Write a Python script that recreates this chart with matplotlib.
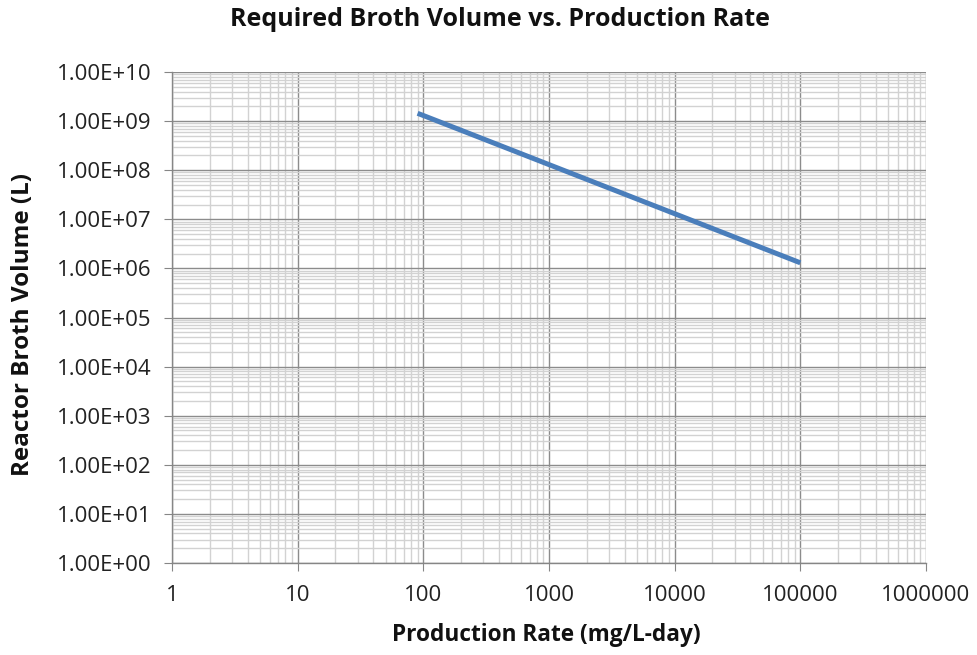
import matplotlib
matplotlib.use("Agg")
import matplotlib.pyplot as plt
from matplotlib.ticker import LogLocator, FixedLocator, NullFormatter

production_rate = [90, 100, 1000, 10000, 100000]
broth_volume = [1.44e9, 1.3e9, 1.3e8, 1.3e7, 1.3e6]
x_ticks = [1, 10, 100, 1000, 10000, 100000, 1000000]
x_tick_labels = ["1", "10", "100", "1000", "10000", "100000", "1000000"]
y_ticks = [10.0**k for k in range(0, 11)]
y_tick_labels = ["1.00E+%02d" % k for k in range(0, 11)]

plt.rcParams['font.family'] = ['Open Sans', 'DejaVu Sans']

W, H = 977, 655
fig = plt.figure(figsize=(W/100, H/100), dpi=100)
ax = fig.add_axes([172/W, 1-563/H, (926-172)/W, (563-72)/H])

ax.plot(production_rate, broth_volume, color='#4a7ebb', lw=3.6, solid_capstyle='butt', zorder=3)

ax.set_xscale('log')
ax.set_yscale('log')
ax.set_xlim(1, 1e6)
ax.set_ylim(1, 1e10)

ax.xaxis.set_major_locator(FixedLocator(x_ticks))
ax.set_xticklabels(x_tick_labels)
ax.yaxis.set_major_locator(FixedLocator(y_ticks))
ax.set_yticklabels(y_tick_labels)
ax.xaxis.set_minor_locator(LogLocator(base=10, subs=range(2, 10), numticks=20))
ax.yaxis.set_minor_locator(LogLocator(base=10, subs=range(2, 10), numticks=30))
ax.xaxis.set_minor_formatter(NullFormatter())
ax.yaxis.set_minor_formatter(NullFormatter())

ax.grid(which='major', color='#8c8c8c', lw=1.0, zorder=1)
ax.grid(which='minor', color='#d2d2d2', lw=1.0, zorder=0)
ax.set_axisbelow(True)

for s in ['top', 'right']:
    ax.spines[s].set_visible(False)
for s in ['left', 'bottom']:
    ax.spines[s].set_color('#868686')
    ax.spines[s].set_linewidth(1.0)

ax.tick_params(which='major', direction='out', length=6, color='#868686', labelsize=16, labelcolor='#222222')
ax.tick_params(which='minor', length=0)
ax.tick_params(axis='x', pad=10)
ax.tick_params(axis='y', pad=9)

fig.text(500/W, 1-20/H, 'Required Broth Volume vs. Production Rate', fontsize=18,
         fontweight='bold', ha='center', va='center', color='#111111')
fig.text(546/W, 1-635/H, 'Production Rate (mg/L-day)', fontsize=16.3,
         fontweight='bold', ha='center', va='center', color='#111111')
fig.text(23/W, 1-324/H, 'Reactor Broth Volume (L)', fontsize=17.5, rotation=90,
         fontweight='bold', ha='center', va='center', color='#111111')

fig.savefig('out.png', dpi=100)
